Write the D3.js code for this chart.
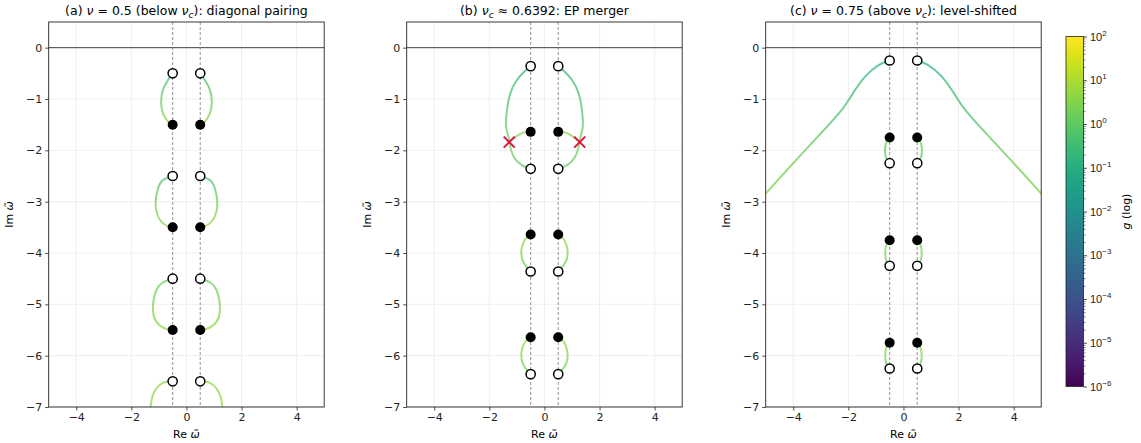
<!DOCTYPE html>
<html>
<head>
<meta charset="utf-8">
<script src="https://cdn.jsdelivr.net/npm/d3@7"></script>
<style>
  body { margin: 0; background: #fff; }
  svg { font-family: "DejaVu Sans", sans-serif; }
</style>
</head>
<body>
<div id="chart"></div>
<script>
// Root-locus style panels: open circles, filled circles, g-coloured trajectories.

// ---- data ----
const xTicks = [-4, -2, 0, 2, 4];
const yTicks = [0, -1, -2, -3, -4, -5, -6, -7];
const cbarExps = [2, 1, 0, -1, -2, -3, -4, -5, -6];
const dashedRe = [-0.5, 0.5];

// panel (a)
const aOpen = [[-0.5, -0.5], [0.5, -0.5], [-0.5, -2.5], [0.5, -2.5], [-0.5, -4.5], [0.5, -4.5], [-0.5, -6.5], [0.5, -6.5]];
const aFilled = [[-0.5, -1.5], [0.5, -1.5], [-0.5, -3.5], [0.5, -3.5], [-0.5, -5.5], [0.5, -5.5]];
const aCurves = [
  [[-0.5, -0.5], [-0.67, -0.63], [-0.85, -0.82], [-0.92, -1.05], [-0.85, -1.28], [-0.67, -1.44], [-0.5, -1.5]],
  [[0.5, -0.5], [0.67, -0.63], [0.85, -0.82], [0.92, -1.05], [0.85, -1.28], [0.67, -1.44], [0.5, -1.5]],
  [[-0.5, -2.5], [-0.85, -2.58], [-1.03, -2.74], [-1.12, -3.0], [-1.07, -3.23], [-0.91, -3.39], [-0.67, -3.48], [-0.5, -3.5]],
  [[0.5, -2.5], [0.85, -2.58], [1.03, -2.74], [1.12, -3.0], [1.07, -3.23], [0.91, -3.39], [0.67, -3.48], [0.5, -3.5]],
  [[-0.5, -4.5], [-0.85, -4.57], [-1.09, -4.72], [-1.21, -4.98], [-1.18, -5.24], [-0.97, -5.41], [-0.67, -5.49], [-0.5, -5.5]],
  [[0.5, -4.5], [0.85, -4.57], [1.09, -4.72], [1.21, -4.98], [1.18, -5.24], [0.97, -5.41], [0.67, -5.49], [0.5, -5.5]],
  [[-0.5, -6.5], [-0.85, -6.53], [-1.09, -6.64], [-1.24, -6.8], [-1.3, -7.0], [-1.32, -7.15]],
  [[0.5, -6.5], [0.85, -6.53], [1.09, -6.64], [1.24, -6.8], [1.3, -7.0], [1.32, -7.15]]
];
const aLogG = [[-0.5, 0.6], [-0.5, 0.6], [-0.3, 0.7], [-0.3, 0.7], [0.1, 0.7], [0.1, 0.7], [0.5, 0.7], [0.5, 0.7]];

// panel (b)
const bOpen = [[-0.5, -0.36], [0.5, -0.36], [-0.5, -2.36], [0.5, -2.36], [-0.5, -4.36], [0.5, -4.36], [-0.5, -6.36], [0.5, -6.36]];
const bFilled = [[-0.5, -1.64], [0.5, -1.64], [-0.5, -3.64], [0.5, -3.64], [-0.5, -5.64], [0.5, -5.64]];
const bEP = [[-1.28, -1.84], [1.28, -1.84]];
const bCurves = [
  [[-0.5, -0.36], [-0.7, -0.45], [-1.0, -0.63], [-1.24, -0.89], [-1.36, -1.21], [-1.39, -1.54], [-1.3, -1.75], [-1.28, -1.84]],
  [[0.5, -0.36], [0.7, -0.45], [1.0, -0.63], [1.24, -0.89], [1.36, -1.21], [1.39, -1.54], [1.3, -1.75], [1.28, -1.84]],
  [[-1.28, -1.84], [-0.94, -1.7], [-0.64, -1.64], [-0.5, -1.64]],
  [[1.28, -1.84], [0.94, -1.7], [0.64, -1.64], [0.5, -1.64]],
  [[-1.28, -1.84], [-1.12, -2.12], [-0.82, -2.29], [-0.5, -2.36]],
  [[1.28, -1.84], [1.12, -2.12], [0.82, -2.29], [0.5, -2.36]],
  [[-0.5, -3.64], [-0.7, -3.73], [-0.82, -3.89], [-0.84, -4.0], [-0.81, -4.12], [-0.68, -4.25], [-0.5, -4.36]],
  [[0.5, -3.64], [0.7, -3.73], [0.82, -3.89], [0.84, -4.0], [0.81, -4.12], [0.68, -4.25], [0.5, -4.36]],
  [[-0.5, -5.64], [-0.7, -5.73], [-0.82, -5.89], [-0.84, -6.0], [-0.81, -6.12], [-0.68, -6.25], [-0.5, -6.36]],
  [[0.5, -5.64], [0.7, -5.73], [0.82, -5.89], [0.84, -6.0], [0.81, -6.12], [0.68, -6.25], [0.5, -6.36]]
];
const bLogG = [[-0.8, 0.2], [-0.8, 0.2], [0.3, 0.6], [0.3, 0.6], [0.3, 0.0], [0.3, 0.0], [0.7, 0.2], [0.7, 0.2], [0.7, 0.3], [0.7, 0.3]];

// panel (c)
const cOpen = [[-0.5, -0.25], [0.5, -0.25], [-0.5, -2.25], [0.5, -2.25], [-0.5, -4.25], [0.5, -4.25], [-0.5, -6.25], [0.5, -6.25]];
const cFilled = [[-0.5, -1.75], [0.5, -1.75], [-0.5, -3.75], [0.5, -3.75], [-0.5, -5.75], [0.5, -5.75]];
const cCurves = [
  [[-0.5, -0.25], [-0.9, -0.34], [-1.4, -0.57], [-1.87, -0.92], [-2.24, -1.21], [-3.0, -1.67], [-4.0, -2.25], [-5.0, -2.84], [-5.3, -3.02]],
  [[0.5, -0.25], [0.9, -0.34], [1.4, -0.57], [1.87, -0.92], [2.24, -1.21], [3.0, -1.67], [4.0, -2.25], [5.0, -2.84], [5.3, -3.02]],
  [[-0.5, -1.75], [-0.62, -1.84], [-0.67, -2.0], [-0.62, -2.16], [-0.5, -2.25]],
  [[0.5, -1.75], [0.62, -1.84], [0.67, -2.0], [0.62, -2.16], [0.5, -2.25]],
  [[-0.5, -3.75], [-0.62, -3.84], [-0.66, -4.0], [-0.62, -4.16], [-0.5, -4.25]],
  [[0.5, -3.75], [0.62, -3.84], [0.66, -4.0], [0.62, -4.16], [0.5, -4.25]],
  [[-0.5, -5.75], [-0.62, -5.84], [-0.66, -6.0], [-0.62, -6.16], [-0.5, -6.25]],
  [[0.5, -5.75], [0.62, -5.84], [0.66, -6.0], [0.62, -6.16], [0.5, -6.25]]
];
const cLogG = [[-1.0, 0.6], [-1.0, 0.6], [0.4, -0.2], [0.4, -0.2], [0.6, 0.2], [0.6, 0.2], [0.6, 0.2], [0.6, 0.2]];

// ---- layout ----
const W = 1141, H = 443;
const plotTop = 22, plotH = 385, plotW = 275.5;
const panelLeft = [48.7, 406.7, 765.7];
const cbar = {x: 1066, y: 36.5, w: 17.5, h: 350};

const svg = d3.select("#chart").append("svg")
  .attr("width", W).attr("height", H);
const defs = svg.append("defs");

const x = d3.scaleLinear().domain([-5, 5]).range([0, plotW]);
const y = d3.scaleLinear().domain([-7, 0.5]).range([plotH, 0]);
const colorT = d3.scaleLinear().domain([-6, 2]).range([0, 1]);
const color = lg => d3.interpolateViridis(colorT(lg));
const line = d3.line().x(d => x(d[0])).y(d => y(d[1])).curve(d3.curveNatural);

// title builder: parts = [text, style]
function addTitle(g, parts) {
  const t = g.append("text")
    .attr("x", plotW / 2).attr("y", -7)
    .attr("text-anchor", "middle")
    .attr("font-size", "12.5px").attr("fill", "#000");
  parts.forEach(([s, st]) => {
    const ts = t.append("tspan").text(s);
    if (st === "i") ts.attr("font-style", "italic");
    if (st === "sub") ts.attr("font-style", "italic").attr("font-size", "9px").attr("dy", 3);
    if (st === "up") ts.attr("dy", -3);
  });
}

function createPanel(i, open, filled, curves, logG, ep, title) {
  const g = svg.append("g").attr("transform", `translate(${panelLeft[i]},${plotTop})`);

  defs.append("clipPath").attr("id", `clip${i}`)
    .append("rect").attr("width", plotW).attr("height", plotH);

  // grid
  g.selectAll(".gx").data(xTicks).enter().append("line")
    .attr("x1", d => x(d)).attr("x2", d => x(d))
    .attr("y1", 0).attr("y2", plotH)
    .attr("stroke", "#ebebeb").attr("stroke-width", 0.8);
  g.selectAll(".gy").data(yTicks).enter().append("line")
    .attr("x1", 0).attr("x2", plotW)
    .attr("y1", d => y(d)).attr("y2", d => y(d))
    .attr("stroke", "#ebebeb").attr("stroke-width", 0.8);

  const inner = g.append("g").attr("clip-path", `url(#clip${i})`);

  // Im = 0 line
  inner.append("line")
    .attr("x1", 0).attr("x2", plotW)
    .attr("y1", y(0)).attr("y2", y(0))
    .attr("stroke", "#444").attr("stroke-width", 1);

  // dashed Re lines
  inner.selectAll(".dash").data(dashedRe).enter().append("line")
    .attr("x1", d => x(d)).attr("x2", d => x(d))
    .attr("y1", 0).attr("y2", plotH)
    .attr("stroke", "#777").attr("stroke-width", 0.8)
    .attr("stroke-dasharray", "3,2");

  // trajectories with g-gradient
  curves.forEach((c, k) => {
    const id = `grad${i}_${k}`;
    const a = c[0], b = c[c.length - 1];
    const gr = defs.append("linearGradient").attr("id", id)
      .attr("gradientUnits", "userSpaceOnUse")
      .attr("x1", x(a[0])).attr("y1", y(a[1]))
      .attr("x2", x(b[0])).attr("y2", y(b[1]));
    gr.append("stop").attr("offset", 0).attr("stop-color", color(logG[k][0]));
    gr.append("stop").attr("offset", 1).attr("stop-color", color(logG[k][1]));
    inner.append("path")
      .attr("d", line(c))
      .attr("fill", "none")
      .attr("stroke", `url(#${id})`)
      .attr("stroke-opacity", 0.72)
      .attr("stroke-width", 2);
  });

  // markers
  inner.selectAll(".filled").data(filled).enter().append("circle")
    .attr("cx", d => x(d[0])).attr("cy", d => y(d[1]))
    .attr("r", 5).attr("fill", "#000");
  inner.selectAll(".open").data(open).enter().append("circle")
    .attr("cx", d => x(d[0])).attr("cy", d => y(d[1]))
    .attr("r", 4.6).attr("fill", "#fff")
    .attr("stroke", "#000").attr("stroke-width", 1.5);
  if (ep) {
    const s = 5.5;
    ep.forEach(d => {
      const cx = x(d[0]), cy = y(d[1]);
      inner.append("path")
        .attr("d", `M${cx - s},${cy - s}L${cx + s},${cy + s}M${cx - s},${cy + s}L${cx + s},${cy - s}`)
        .attr("stroke", "#dc143c").attr("stroke-width", 2);
    });
  }

  // axes
  const xAxis = d3.axisBottom(x).tickValues(xTicks).tickSize(3.5).tickPadding(3).tickFormat(d3.format("d"));
  const yAxis = d3.axisLeft(y).tickValues(yTicks).tickSize(3.5).tickPadding(3).tickFormat(d3.format("d"));
  g.append("g").attr("transform", `translate(0,${plotH})`).call(xAxis)
    .call(s => s.select(".domain").remove());
  g.append("g").call(yAxis).call(s => s.select(".domain").remove());
  g.selectAll(".tick text").attr("font-size", "11px").attr("font-family", "DejaVu Sans").attr("fill", "#222");
  g.selectAll(".tick line").attr("stroke", "#222").attr("stroke-width", 0.8);

  // frame
  g.append("rect").attr("width", plotW).attr("height", plotH)
    .attr("fill", "none").attr("stroke", "#222").attr("stroke-width", 0.9);

  // x label
  const xl = g.append("text").attr("x", plotW / 2).attr("y", plotH + 31)
    .attr("text-anchor", "middle").attr("font-size", "11px");
  xl.append("tspan").text("Re ");
  xl.append("tspan").attr("font-style", "italic").text("ω\u0303");

  // y label
  const yl = g.append("text")
    .attr("transform", `translate(-36,${plotH / 2}) rotate(-90)`)
    .attr("text-anchor", "middle").attr("font-size", "11px");
  yl.append("tspan").text("Im ");
  yl.append("tspan").attr("font-style", "italic").text("ω\u0303");

  addTitle(g, title);
}

createPanel(0, aOpen, aFilled, aCurves, aLogG, null,
  [["(a) ", ""], ["ν", "i"], [" = 0.5 (below ", ""], ["ν", "i"], ["c", "sub"], ["): diagonal pairing", "up"]]);
createPanel(1, bOpen, bFilled, bCurves, bLogG, bEP,
  [["(b) ", ""], ["ν", "i"], ["c", "sub"], [" ≈ 0.6392: EP merger", "up"]]);
createPanel(2, cOpen, cFilled, cCurves, cLogG, null,
  [["(c) ", ""], ["ν", "i"], [" = 0.75 (above ", ""], ["ν", "i"], ["c", "sub"], ["): level-shifted", "up"]]);

// ---- colorbar ----
const cg = svg.append("g").attr("transform", `translate(${cbar.x},${cbar.y})`);
const cgrad = defs.append("linearGradient").attr("id", "cbarGrad")
  .attr("x1", 0).attr("y1", 1).attr("x2", 0).attr("y2", 0);
d3.range(0, 1.0001, 0.05).forEach(t => {
  cgrad.append("stop").attr("offset", t).attr("stop-color", d3.interpolateViridis(t));
});
cg.append("rect").attr("width", cbar.w).attr("height", cbar.h).attr("fill", "url(#cbarGrad)");

const cy = d3.scaleLog().domain([1e-6, 1e2]).range([cbar.h, 0]);
const minor = [];
cbarExps.slice(1).forEach(e => { for (let m = 2; m <= 9; m++) minor.push(m * Math.pow(10, e)); });
cg.append("g").attr("transform", `translate(${cbar.w},0)`)
  .call(d3.axisRight(cy).tickValues(minor).tickSize(2).tickFormat(""))
  .call(s => s.select(".domain").remove())
  .selectAll("line").attr("stroke", "#222").attr("stroke-width", 0.6);
const major = cg.append("g").attr("transform", `translate(${cbar.w},0)`)
  .call(d3.axisRight(cy).tickValues(cbarExps.map(e => Math.pow(10, e))).tickSize(3.5).tickPadding(3).tickFormat(""))
  .call(s => s.select(".domain").remove());
major.selectAll("line").attr("stroke", "#222").attr("stroke-width", 0.8);
major.selectAll(".tick").each(function(d) {
  const e = Math.round(Math.log10(d));
  const t = d3.select(this).append("text")
    .attr("x", 6.5).attr("dy", "0.32em")
    .attr("font-size", "11px").attr("fill", "#222").attr("text-anchor", "start");
  t.append("tspan").text("10");
  t.append("tspan").attr("font-size", "8px").attr("dy", -5).text(d3.format("d")(e));
});
cg.append("rect").attr("width", cbar.w).attr("height", cbar.h)
  .attr("fill", "none").attr("stroke", "#222").attr("stroke-width", 0.8);

const cl = svg.append("text")
  .attr("transform", `translate(1130,${cbar.y + cbar.h / 2}) rotate(-90)`)
  .attr("text-anchor", "middle").attr("font-size", "11px");
cl.append("tspan").attr("font-style", "italic").text("g");
cl.append("tspan").text(" (log)");
</script>
</body>
</html>
